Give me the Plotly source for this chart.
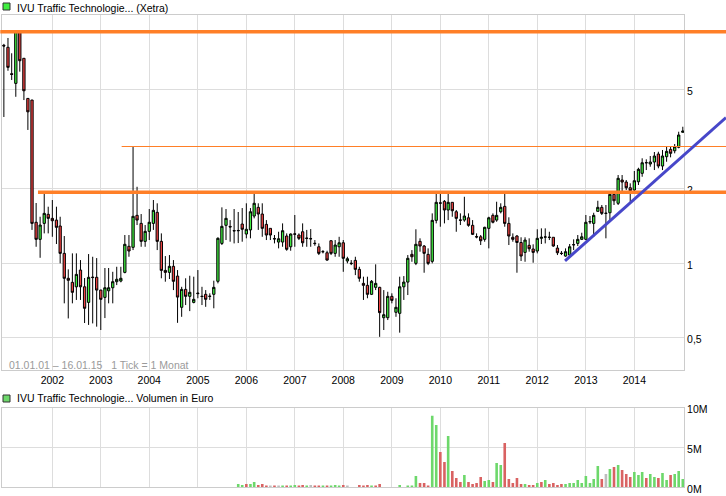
import math
import pandas as pd
import plotly.graph_objects as go

# monthly candles, Jan 2001 .. Jan 2015 (one row per year)
months = pd.date_range('2001-01-01', periods=169, freq='MS')

opens = [
    7.55, 7.41, 5.80, 5.30, 8.60, 6.69, 4.61, 4.54, 1.46, 1.246, 1.445, 1.572,
    1.514, 1.49, 1.41, 1.094, 0.868, 0.836, 0.802, 0.937, 0.802, 0.694, 0.878, 0.876,
    0.778, 0.727, 0.773, 0.795, 0.841, 0.846, 0.917, 1.168, 1.157, 1.557, 1.445, 1.223,
    1.342, 1.445, 1.601, 1.223, 0.934, 0.917, 0.97, 0.886, 0.663, 0.783, 0.734, 0.694,
    0.757, 0.735, 0.748, 0.733, 0.748, 0.844, 1.20, 1.419, 1.405, 1.352, 1.349, 1.436,
    1.309, 1.36, 1.547, 1.677, 1.576, 1.432, 1.38, 1.255, 1.215, 1.215, 1.285, 1.163,
    1.311, 1.297, 1.337, 1.256, 1.252, 1.202, 1.163, 1.11, 1.10, 1.23, 1.094, 1.163,
    1.207, 1.019, 0.999, 1.025, 0.943, 0.828, 0.813, 0.748, 0.798, 0.798, 0.602, 0.602,
    0.734, 0.633, 0.627, 0.802, 0.838, 1.084, 0.997, 1.223, 1.171, 1.084, 1.016, 1.486,
    1.748, 1.773, 1.636, 1.757, 1.61, 1.492, 1.49, 1.522, 1.419, 1.278, 1.276, 1.246,
    1.38, 1.557, 1.49, 1.61, 1.692, 1.445, 1.27, 1.285, 1.21, 1.104, 1.179, 1.139,
    1.118, 1.258, 1.272, 1.271, 1.27, 1.149, 1.095, 1.067, 1.077, 1.184, 1.20, 1.246,
    1.246, 1.465, 1.445, 1.616, 1.677, 1.584, 1.595, 1.892, 1.741, 2.161, 2.121, 2.012,
    1.97, 2.127, 2.30, 2.535, 2.507, 2.554, 2.751, 2.461, 2.684, 2.873, 2.836, 2.928,
    3.365,
]
highs = [
    7.65, 8.08, 7.01, 8.65, 8.65, 6.70, 4.62, 4.55, 1.746, 1.537, 1.91, 1.687,
    1.795, 1.687, 1.537, 1.285, 0.943, 1.094, 1.094, 1.028, 0.87, 1.087, 1.06, 1.047,
    0.78, 0.955, 0.955, 0.922, 0.966, 0.966, 1.297, 1.297, 2.944, 2.03, 1.576, 1.423,
    1.651, 1.795, 1.741, 1.317, 1.067, 1.077, 1.028, 0.937, 0.802, 0.868, 0.889, 0.881,
    0.937, 0.802, 0.778, 0.755, 0.849, 1.27, 1.677, 1.651, 1.49, 1.651, 1.606, 1.666,
    1.741, 1.666, 1.90, 1.741, 1.741, 1.49, 1.38, 1.297, 1.337, 1.445, 1.317, 1.317,
    1.562, 1.317, 1.445, 1.36, 1.371, 1.238, 1.20, 1.128, 1.121, 1.238, 1.238, 1.276,
    1.238, 1.06, 1.028, 1.06, 0.966, 0.881, 0.881, 0.854, 0.988, 0.802, 0.778, 0.766,
    0.755, 0.721, 0.881, 0.886, 1.077, 1.128, 1.368, 1.258, 1.182, 1.146, 1.586, 1.91,
    1.91, 1.795, 1.90, 1.757, 1.636, 1.586, 1.85, 1.586, 1.49, 1.317, 1.297, 1.401,
    1.537, 1.586, 1.767, 1.741, 1.91, 1.529, 1.317, 1.297, 1.27, 1.27, 1.258, 1.19,
    1.368, 1.38, 1.38, 1.337, 1.27, 1.182, 1.118, 1.146, 1.193, 1.246, 1.297, 1.325,
    1.562, 1.547, 1.595, 1.783, 1.714, 1.714, 1.92, 1.939, 2.264, 2.264, 2.161, 2.096,
    2.35, 2.422, 2.644, 2.619, 2.701, 2.803, 2.81, 2.855, 2.944, 2.963, 3.019, 3.384,
    3.544,
]
lows = [
    3.88, 5.96, 5.47, 4.68, 5.91, 4.54, 3.44, 1.36, 1.163, 1.05, 1.317, 1.317,
    1.276, 1.193, 0.997, 0.688, 0.598, 0.688, 0.71, 0.71, 0.573, 0.563, 0.571, 0.554,
    0.537, 0.60, 0.688, 0.688, 0.815, 0.836, 0.909, 1.06, 1.128, 1.423, 1.163, 1.163,
    1.238, 1.36, 1.128, 0.868, 0.841, 0.862, 0.778, 0.574, 0.607, 0.677, 0.64, 0.688,
    0.721, 0.677, 0.666, 0.71, 0.657, 0.828, 1.182, 1.238, 1.219, 1.20, 1.204, 1.219,
    1.258, 1.258, 1.514, 1.36, 1.276, 1.238, 1.238, 1.20, 1.146, 1.163, 1.121, 1.121,
    1.163, 1.238, 1.163, 1.163, 1.163, 1.174, 1.077, 1.094, 1.021, 1.077, 1.06, 1.06,
    0.922, 0.997, 0.981, 0.894, 0.841, 0.71, 0.721, 0.743, 0.778, 0.504, 0.537, 0.589,
    0.688, 0.607, 0.524, 0.71, 0.743, 1.012, 0.981, 1.111, 0.914, 0.981, 0.997, 1.445,
    1.401, 1.445, 1.49, 1.537, 1.337, 1.423, 1.467, 1.401, 1.297, 1.258, 1.182, 1.219,
    1.146, 1.445, 1.467, 1.586, 1.401, 1.182, 1.219, 0.914, 1.019, 1.012, 1.111, 1.003,
    1.094, 1.193, 1.20, 1.238, 1.163, 1.077, 1.077, 1.06, 1.06, 1.128, 1.171, 1.238,
    1.238, 1.436, 1.276, 1.61, 1.562, 1.258, 1.49, 1.714, 1.714, 1.91, 1.97, 1.767,
    1.939, 2.063, 2.228, 2.371, 2.445, 2.371, 2.41, 2.371, 2.561, 2.668, 2.769, 2.901,
    3.365,
]
closes = [
    7.50, 6.15, 5.76, 8.62, 6.54, 4.95, 4.07, 1.445, 1.246, 1.423, 1.586, 1.514,
    1.481, 1.393, 1.094, 0.868, 0.852, 0.762, 0.900, 0.802, 0.657, 0.876, 0.874, 0.778,
    0.714, 0.795, 0.795, 0.841, 0.86, 0.868, 1.19, 1.118, 1.543, 1.49, 1.223, 1.342,
    1.46, 1.631, 1.223, 0.934, 0.917, 0.97, 0.844, 0.729, 0.783, 0.734, 0.762, 0.714,
    0.753, 0.733, 0.714, 0.735, 0.798, 1.258, 1.406, 1.514, 1.398, 1.348, 1.353, 1.368,
    1.368, 1.61, 1.741, 1.576, 1.38, 1.297, 1.297, 1.251, 1.253, 1.35, 1.136, 1.309,
    1.307, 1.258, 1.207, 1.26, 1.254, 1.198, 1.094, 1.112, 1.028, 1.094, 1.182, 1.207,
    1.045, 1.041, 0.995, 0.943, 0.868, 0.813, 0.748, 0.844, 0.828, 0.631, 0.619, 0.734,
    0.707, 0.663, 0.802, 0.838, 1.045, 1.06, 1.19, 1.171, 1.094, 0.997, 1.486, 1.757,
    1.744, 1.636, 1.757, 1.625, 1.514, 1.488, 1.547, 1.419, 1.305, 1.274, 1.23, 1.393,
    1.522, 1.46, 1.557, 1.677, 1.445, 1.285, 1.246, 1.21, 1.067, 1.238, 1.142, 1.104,
    1.258, 1.27, 1.274, 1.269, 1.171, 1.10, 1.093, 1.111, 1.163, 1.186, 1.246, 1.276,
    1.46, 1.469, 1.557, 1.677, 1.586, 1.588, 1.892, 1.783, 2.196, 2.121, 2.012, 1.957,
    2.147, 2.387, 2.537, 2.539, 2.554, 2.701, 2.461, 2.701, 2.82, 2.769, 2.944, 3.282,
    3.405,
]

# volume in million euro (no turnover shown before late 2005)
volume = [0] * 58 + [
    0.38, 0.25,
    0.38, 0.38, 0.63, 0.25, 0.38, 0.13, 0.13, 0.13, 0.13, 0.13, 0.13, 0.13,
    0.25, 0.13, 0.25, 0.13, 0.25, 0.13, 0.13, 0.13, 0.13, 0.13, 0.25, 0.13,
    0.25, 0.13, 0, 0, 0.25, 0.13, 0.25, 0.13, 0.13, 0.38, 0, 0,
    0, 0, 0.25, 0, 0.13, 0.13, 1.39, 0.5, 0.5, 0.13, 8.95, 7.81,
    4.41, 3.15, 6.43, 2.02, 1.13, 0.63, 1.51, 0.63, 0.38, 0.5, 1.26, 0.76,
    0.88, 0.63, 3.02, 2.77, 5.54, 1.01, 0.5, 1.13, 0.38, 0.38, 0.25, 0.25,
    0.5, 0.63, 0.88, 0.38, 0.5, 0.25, 0.38, 0.38, 0.5, 0.5, 0.88, 0.5,
    1.39, 0.5, 1.01, 2.65, 1.01, 1.64, 2.27, 2.52, 2.77, 2.14, 1.64, 1.26,
    1.89, 1.51, 1.89, 1.13, 1.64, 1.26, 1.13, 1.76, 0.88, 1.51, 1.64, 2.02,
    1.01,
]
# bar colour per month: g = up, r = down, n = unchanged
vol_dir = ('n' * 58 + 'gg'
           + 'rggrrrnrngrg' + 'grrgnrrgrggg'
           + 'rnnnrrrgrrnn' + 'nngngggrrrgg'
           + 'rrgrrrgrrrrg' + 'grggrrrrrgrr'
           + 'grgrrrrggggg' + 'ggggrngrgrrr'
           + 'gggrggrggrgg' + 'g')

levels = [8.56, 2.95, 1.93]
level_start = ['2000-12-05', '2003-06-07', '2001-09-15']
level_width = [3.5, 1, 3.5]

trend_dates = ['2012-07-28', '2014-12-01']
trend_prices = [1.02, 2.61]

years = list(range(2002, 2015))

W, H = 726, 496
ML, MR, MT, MB = 2, 42, 15, 9
PW, PH = W - ML - MR, H - MT - MB
x_lo, x_hi = pd.Timestamp('2000-12-18'), pd.Timestamp('2015-01-10')


def px(x):
    return (x - ML) / PW


def py(y):
    return (H - MB - y) / PH


def date_paper(d):
    return (pd.Timestamp(d) - x_lo) / (x_hi - x_lo)


orange = '#ff7f27'
blue = '#4747c9'
grid = '#dddddd'
font = 'Liberation Sans, Arial, sans-serif'
fsize = 10.5
dir_colors = {'g': '#6dd86b', 'r': '#d96262', 'n': '#bdbdbd'}

fig = go.Figure()
fig.add_trace(go.Candlestick(
    x=months, open=opens, high=highs, low=lows, close=closes,
    increasing=dict(fillcolor='#40ee40', line=dict(color='black', width=1)),
    decreasing=dict(fillcolor='#ee4242', line=dict(color='black', width=1)),
    whiskerwidth=0, xaxis='x', yaxis='y', hoverinfo='skip',
))
fig.add_trace(go.Bar(
    x=months, y=volume, marker_color=[dir_colors[c] for c in vol_dir],
    marker_line_width=0, xaxis='x2', yaxis='y2', hoverinfo='skip',
))

right = px(W)
shapes = []
for lvl, start, lw in zip(levels, level_start, level_width):
    shapes.append(dict(type='line', xref='paper', yref='y',
                       x0=date_paper(start), x1=right, y0=lvl, y1=lvl,
                       line=dict(color=orange, width=lw)))

p0, p1 = date_paper(trend_dates[0]), date_paper(trend_dates[1])
slope = (math.log10(trend_prices[1]) - math.log10(trend_prices[0])) / (p1 - p0)
v_end = 10 ** (math.log10(trend_prices[0]) + slope * (right - p0))
shapes.append(dict(type='line', xref='paper', yref='y',
                   x0=p0, x1=right, y0=trend_prices[0], y1=v_end,
                   line=dict(color=blue, width=3)))

# legend squares
shapes.append(dict(type='rect', xref='paper', yref='paper',
                   x0=px(3), x1=px(10), y0=py(10), y1=py(3),
                   fillcolor='#40ee40', line=dict(color='#333333', width=1)))
shapes.append(dict(type='rect', xref='paper', yref='paper',
                   x0=px(3), x1=px(10), y0=py(402), y1=py(395),
                   fillcolor='#6dd86b', line=dict(color='#333333', width=1)))

annotations = [
    dict(text='IVU Traffic Technologie... (Xetra)', xref='paper', yref='paper',
         x=px(15), y=py(7.5), xanchor='left', yanchor='middle', showarrow=False,
         font=dict(size=fsize, color='black', family=font)),
    dict(text='IVU Traffic Technologie... Volumen in Euro', xref='paper', yref='paper',
         x=px(15), y=py(398), xanchor='left', yanchor='middle', showarrow=False,
         font=dict(size=fsize, color='black', family=font)),
    dict(text='01.01.01 \u2013 16.01.15\u00a0\u00a0\u00a01 Tick = 1 Monat', xref='paper', yref='paper',
         x=px(7), y=py(365), xanchor='left', yanchor='middle', showarrow=False,
         font=dict(size=fsize, color='#9a9a9a', family=font)),
]

year_ticks = [pd.Timestamp(f'{y}-01-01') for y in years]
axis_common = dict(showline=True, mirror=True, linecolor='#cccccc', linewidth=1,
                   gridcolor=grid, zeroline=False, ticks='',
                   tickfont=dict(size=fsize, color='black', family=font))

fig.update_layout(
    width=W, height=H,
    margin=dict(l=ML, r=MR, t=MT, b=MB),
    paper_bgcolor='white', plot_bgcolor='white',
    showlegend=False, boxgap=0.12, bargap=0.3,
    separators=',.',
    shapes=shapes, annotations=annotations,
    xaxis=dict(axis_common, type='date', range=[x_lo, x_hi], anchor='y',
               tickvals=year_ticks, ticktext=[str(y) for y in years],
               rangeslider=dict(visible=False)),
    yaxis=dict(axis_common, type='log', side='right', anchor='x',
               domain=[py(370), 1],
               range=[math.log10(0.3705), 1.0], ticklabelshift=2,
               tickvals=[0.5, 1, 2, 5], ticktext=['0,5', '1', '2', '5']),
    xaxis2=dict(axis_common, type='date', matches='x', anchor='y2',
                tickvals=year_ticks, showticklabels=False),
    yaxis2=dict(axis_common, side='right', anchor='x2',
                domain=[0, py(407.5)], range=[0, 10], ticklabelshift=2,
                tickvals=[0, 5, 10], ticktext=['0M', '5M', '10M']),
)

# the page's default body margin would shift the chart by 8px
fig.write_html('out.html', config={'displayModeBar': False},
               post_script="document.body.style.margin='0';")
